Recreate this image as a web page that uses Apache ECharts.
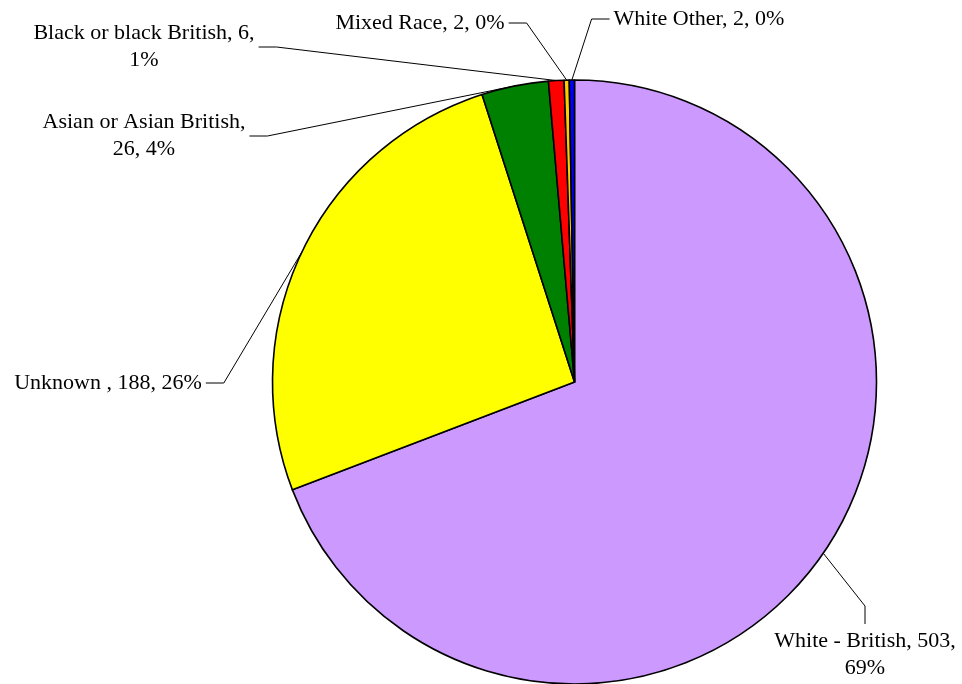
<!DOCTYPE html>
<html>
<head>
<meta charset="utf-8">
<script src="https://cdn.jsdelivr.net/npm/echarts@6/dist/echarts.min.js"></script>
<style>
html,body{margin:0;padding:0;background:#fff;}
#chart{width:962px;height:684px;}
</style>
</head>
<body>
<div id="chart"></div>
<script>
// ---- data ----
var categories = ['White - British', 'Unknown ', 'Asian or Asian British', 'Black or black British', 'Mixed Race', 'White Other'];
var counts = [503, 188, 26, 6, 2, 2];
var colors = ['#CC99FF', '#FFFF00', '#008000', '#FF0000', '#FFCC00', '#0000FF'];
// where the label text breaks: 0 = single line, 1 = break before count, 2 = break before percent
var labelBreaks = [2, 0, 1, 2, 0, 0];

// ---- label layout (text centres and which side the leader attaches to) ----
var labelCentres = [[865, 655], [108, 383], [144, 136], [144, 47], [420, 23], [699, 19]];
var labelSides = ['top', 'right', 'right', 'right', 'right', 'left'];

var chart = echarts.init(document.getElementById('chart'), null, {renderer: 'canvas'});

var data = categories.map(function (c, i) {
  return {name: c, value: counts[i], itemStyle: {color: colors[i]}};
});

var option = {
  backgroundColor: '#ffffff',
  animation: false,
  series: [{
    type: 'pie',
    center: [574.5, 382],
    radius: 302,
    startAngle: 90,
    clockwise: true,
    avoidLabelOverlap: false,
    percentPrecision: 0,
    emphasis: {disabled: true},
    itemStyle: {borderColor: '#000', borderWidth: 1.6},
    label: {
      show: true,
      position: 'outside',
      fontFamily: '"Liberation Serif", "Times New Roman", serif',
      fontSize: 22,
      lineHeight: 27,
      color: '#000',
      align: 'center',
      formatter: function (p) {
        var b = labelBreaks[p.dataIndex];
        var s3 = p.percent + '%';
        if (b === 1) return p.name + ',\n' + p.value + ', ' + s3;
        if (b === 2) return p.name + ', ' + p.value + ',\n' + s3;
        return p.name + ', ' + p.value + ', ' + s3;
      }
    },
    labelLine: {
      show: true,
      length: 10,
      length2: 10,
      lineStyle: {color: '#000', width: 1}
    },
    labelLayout: function (p) {
      var c = labelCentres[p.dataIndex];
      var w = p.labelRect.width, h = p.labelRect.height;
      var side = labelSides[p.dataIndex];
      var gap = 4, len = 18;
      var start = p.labelLinePoints ? p.labelLinePoints[0] : null;
      var pts = null;
      if (start) {
        if (side === 'right') {
          var r = c[0] + w / 2 + gap;
          pts = [start, [r + len, c[1]], [r, c[1]]];
        } else if (side === 'left') {
          var l = c[0] - w / 2 - gap;
          pts = [start, [l - len, c[1]], [l, c[1]]];
        } else {
          var t = c[1] - h / 2 - gap;
          pts = [start, [c[0], t - len], [c[0], t]];
        }
      }
      var res = {x: c[0], y: c[1], align: 'center', verticalAlign: 'middle'};
      if (pts) res.labelLinePoints = pts;
      return res;
    },
    data: data
  }]
};
chart.setOption(option);
</script>
</body>
</html>
